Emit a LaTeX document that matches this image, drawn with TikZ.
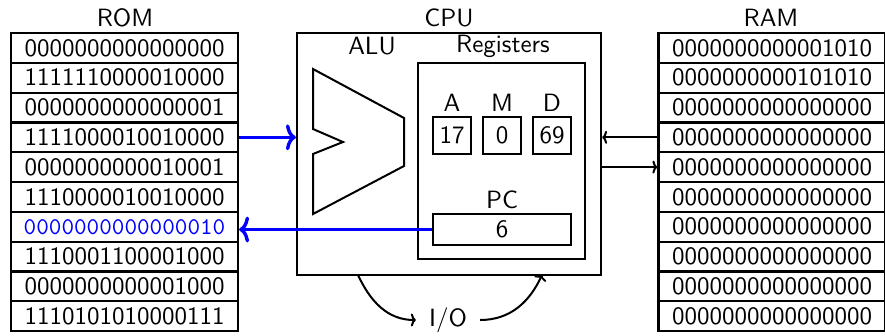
\documentclass[tikz,border=0pt]{standalone}
\usepackage{fontspec}
\setsansfont{lmsans10-regular}[Extension=.otf]
\setmonofont{lmmono10-regular}[Extension=.otf]
\usetikzlibrary{arrows.meta}
\begin{document}
\begin{tikzpicture}[x=1pt,y=-1pt,
  font=\sffamily\fontsize{25}{30}\selectfont,
  cell/.style={draw, line width=2.2pt, minimum width=227pt, minimum height=29.8pt, inner sep=0pt},
  box/.style={draw, line width=2.2pt, inner sep=0pt},
  lbl/.style={inner sep=0pt},
  bus/.style={blue, line width=3.4pt, -{To[length=10pt,width=26pt]}},
  wire/.style={line width=2pt, -{To[length=5pt,width=13pt]}}]
\useasboundingbox (0,0) rectangle (885,335);

% titles
\node[lbl] (romt) at (125,18) {ROM};
\node[lbl] (cput) at (449,18) {CPU};
\node[lbl] (ramt) at (771,18) {RAM};

% ROM
\foreach \v [count=\i] in {0000000000000000,1111110000010000,0000000000000001,1111000010010000,0000000000010001,1110000010010000,X,1110001100001000,0000000000001000,1110101010000111}{
  \ifnum\i=7
    \node[cell] (rom\i) at (124.5,{33+(\i-0.5)*29.8}) {\textcolor{blue}{\ttfamily\fontsize{24}{28}\selectfont 0000000000000010}};
  \else
    \node[cell] (rom\i) at (124.5,{33+(\i-0.5)*29.8}) {\v};
  \fi
}

% RAM
\foreach \v [count=\i] in {0000000000001010,0000000000101010,0000000000000000,0000000000000000,0000000000000000,0000000000000000,0000000000000000,0000000000000000,0000000000000000,0000000000000000}{
  \node[cell] (ram\i) at (772,{33+(\i-0.5)*29.8}) {\v};
}

% CPU
\node[box, minimum width=304pt, minimum height=242pt] (cpu) at (449,154) {};
\node[lbl] (alut) at (372,46) {ALU};
\node[lbl] (regt) at (503,46) {Registers};
\draw[line width=2pt, line join=miter] (313,69) -- (404,118) -- (404,166) -- (313,214) -- (313,154) -- (343,142) -- (313,129) -- cycle;
\coordinate (alu) at (358,142);

\node[box, minimum width=167pt, minimum height=196pt] (regs) at (501.5,161) {};
\node[lbl] (al) at (452,103) {A};
\node[lbl] (ml) at (502,103) {M};
\node[lbl] (dl) at (552,103) {D};
\node[box, minimum width=38pt, minimum height=37pt] (ra) at (452,135.5) {17};
\node[box, minimum width=38pt, minimum height=37pt] (rm) at (502,135.5) {0};
\node[box, minimum width=38pt, minimum height=37pt] (rd) at (552,135.5) {69};
\node[lbl] (pcl) at (502,200) {PC};
\node[box, minimum width=138pt, minimum height=31pt] (pc) at (502,229.5) {6};

% buses
\draw[bus] (rom4.east) -- (rom4.east -| cpu.west);
\draw[bus] (pc.west) -- (pc.west -| rom7.east);
\draw[wire] (ram4.west) -- (ram4.west -| cpu.east);
\draw[wire] (cpu.east |- ram5.west) -- (ram5.west);

% I/O
\node[lbl, inner xsep=13pt] (io) at (448,320) {I/O};
\coordinate (cpuo) at (358,275);
\coordinate (cpui) at (542,275);
\draw[wire] (cpuo) to[out=-65,in=180] (io.west);
\draw[wire] (io.east) to[out=0,in=-115] (cpui);
\end{tikzpicture}
\end{document}
